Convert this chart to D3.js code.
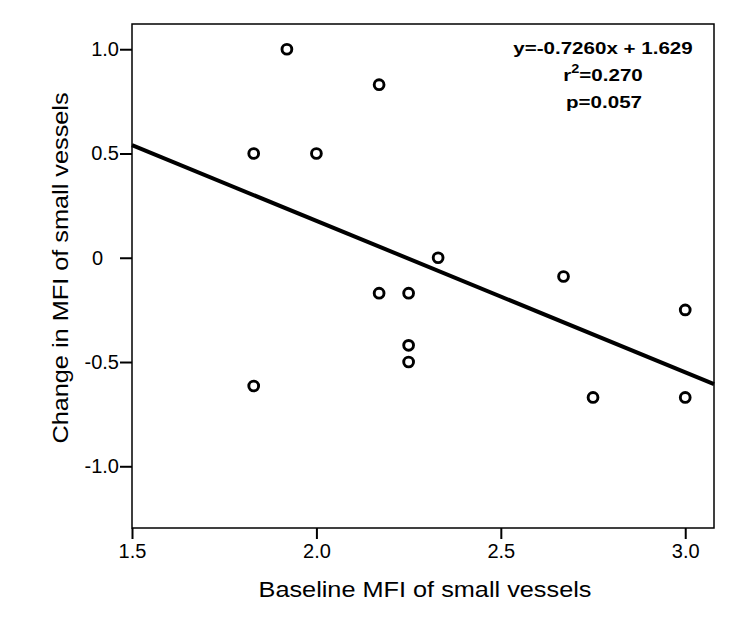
<!DOCTYPE html>
<html><head><meta charset="utf-8">
<script src="https://cdn.jsdelivr.net/npm/d3@7/dist/d3.min.js"></script>
<style>body{margin:0;background:#fff}svg{display:block}text{font-family:"Liberation Sans",Arial,sans-serif}</style>
</head><body><svg id="c" width="744" height="621"></svg>
<script>
const xValues = [1.92, 2.17, 1.83, 2.00, 2.33, 2.67, 2.17, 2.25, 3.00, 2.25, 2.25, 1.83, 2.75, 3.00];
const yValues = [1.00, 0.83, 0.50, 0.50, 0.00, -0.09, -0.17, -0.17, -0.25, -0.42, -0.50, -0.615, -0.67, -0.67];
const xTicks = [1.5, 2.0, 2.5, 3.0];
const yTicks = [1.0, 0.5, 0, -0.5, -1.0];
const yTickLabels = ["1.0", "0.5", "0", "-0.5", "-1.0"];
const slope = -0.7260, intercept = 1.629;
const annotation = ["y=-0.7260x + 1.629", "r2=0.270", "p=0.057"];

const svg = d3.select("#c");
const L = 132, R = 714, T = 24, B = 528;
const x = d3.scaleLinear().domain([1.5, 3.078]).range([L, R]);
const y = d3.scaleLinear().domain([-1.296, 1.121]).range([B, T]);

// frame
svg.append("rect").attr("x", L).attr("y", T).attr("width", R - L).attr("height", B - T)
  .attr("fill", "none").attr("stroke", "#000").attr("stroke-width", 1.5);

const xa = svg.append("g").attr("transform", `translate(0,${B})`)
  .call(d3.axisBottom(x).tickValues(xTicks).tickFormat(d3.format(".1f")).tickSize(11).tickPadding(5));
const ya = svg.append("g").attr("transform", `translate(${L},0)`)
  .call(d3.axisLeft(y).tickValues(yTicks).tickFormat((d, i) => yTickLabels[i]).tickSize(12).tickPadding(1));
[xa, ya].forEach(a => {
  a.select(".domain").remove();
  a.selectAll("line").attr("stroke", "#000").attr("stroke-width", 2);
  a.selectAll("text").attr("fill", "#000").style("font-size", "20px")
    .style("font-family", '"Liberation Sans",Arial,sans-serif');
});
// decimal-aligned zero label
ya.selectAll(".tick text").filter(d => d === 0).attr("x", -29);

// regression line
const xd = x.domain();
svg.append("line")
  .attr("x1", x(xd[0])).attr("y1", y(slope * xd[0] + intercept))
  .attr("x2", x(xd[1])).attr("y2", y(slope * xd[1] + intercept))
  .attr("stroke", "#000").attr("stroke-width", 4);

// points
svg.append("g").selectAll("circle").data(xValues).join("circle")
  .attr("cx", d => x(d)).attr("cy", (d, i) => y(yValues[i])).attr("r", 4.9)
  .attr("fill", "#fff").attr("stroke", "#000").attr("stroke-width", 2.9);

// annotation
const ann = svg.append("g").attr("font-weight", "bold").attr("font-size", 17).attr("text-anchor", "middle");
ann.append("text").attr("transform", "translate(603,54) scale(1.21,1)").text(annotation[0]);
const t2 = ann.append("text").attr("transform", "translate(603,81) scale(1.21,1)");
t2.append("tspan").text("r");
t2.append("tspan").attr("dy", -8).attr("font-size", 12).text("2");
t2.append("tspan").attr("dy", 8).text(annotation[1].slice(2));
ann.append("text").attr("transform", "translate(604,108) scale(1.21,1)").text(annotation[2]);

// axis titles
svg.append("text").attr("transform", "translate(425,597) scale(1.15,1)").attr("text-anchor", "middle")
  .attr("font-size", 22).text("Baseline MFI of small vessels");
svg.append("text").attr("transform", "translate(68,268) rotate(-90) scale(1.15,1)").attr("text-anchor", "middle")
  .attr("font-size", 22).text("Change in MFI of small vessels");
</script></body></html>
